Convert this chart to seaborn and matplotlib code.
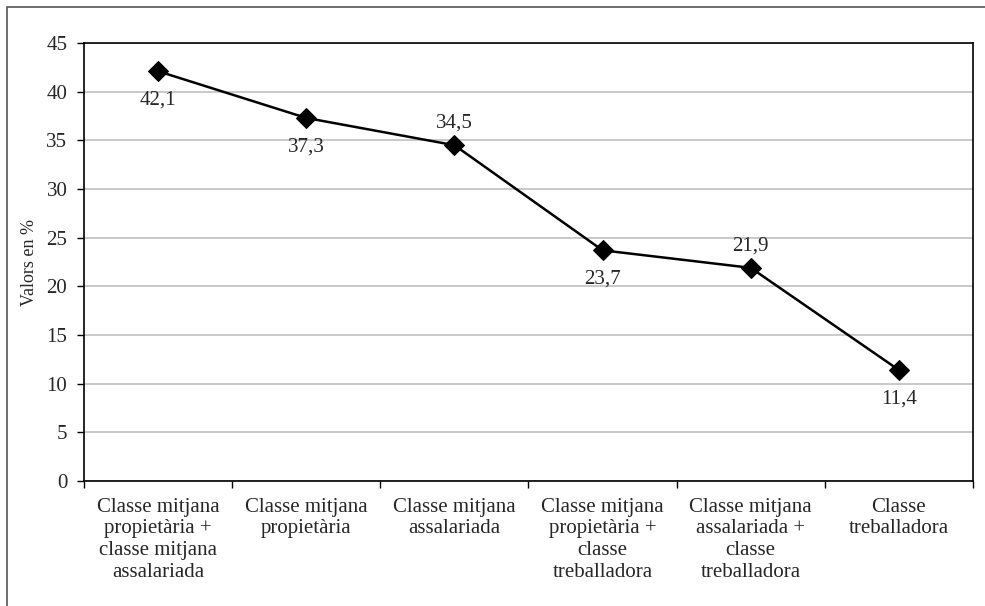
import numpy as np
import pandas as pd
import matplotlib
matplotlib.use('Agg')
import matplotlib.pyplot as plt
import seaborn as sns
from matplotlib.patches import Rectangle

categories = ['Classe mitjana\npropietària +\nclasse mitjana\nassalariada',
              'Classe mitjana\npropietària',
              'Classe mitjana\nassalariada',
              'Classe mitjana\npropietària +\nclasse\ntreballadora',
              'Classe mitjana\nassalariada +\nclasse\ntreballadora',
              'Classe\ntreballadora']
values = [42.1, 37.3, 34.5, 23.7, 21.9, 11.4]
value_labels = ['42,1', '37,3', '34,5', '23,7', '21,9', '11,4']
label_above = [False, False, True, False, True, False]
y_ticks = [0, 5, 10, 15, 20, 25, 30, 35, 40, 45]

sns.set_theme(style='white')
plt.rcParams['font.family'] = ['Liberation Serif', 'DejaVu Serif']

df = pd.DataFrame({'pos': np.arange(len(categories)), 'valor': values})

fig = plt.figure(figsize=(9.85, 6.06), dpi=100)
ax = fig.add_axes([84 / 985, 1 - 481 / 606, (973 - 84) / 985, (481 - 43) / 606])

sns.lineplot(data=df, x='pos', y='valor', ax=ax, color='black', linewidth=1.8,
             marker='D', markersize=10, markeredgecolor='black', markerfacecolor='black')

fs = 15
for i, (v, lab, up) in enumerate(zip(values, value_labels, label_above)):
    if up:
        ax.annotate(lab, (i, v), xytext=(0, 9), textcoords='offset points',
                    ha='center', va='bottom', fontsize=fs)
    else:
        ax.annotate(lab, (i, v), xytext=(0, -14), textcoords='offset points',
                    ha='center', va='top', fontsize=fs)

ax.set_xlim(-0.5, len(categories) - 0.5)
ax.set_ylim(0, 45)
ax.set_yticks(y_ticks)
ax.set_yticklabels([str(t) for t in y_ticks], fontsize=fs)
ax.yaxis.grid(True, color='#c0c0c0', linewidth=1.2)
ax.set_axisbelow(True)

# category boundaries as ticks, labels centred between them
ax.set_xticks(np.arange(-0.5, len(categories), 1.0))
ax.set_xticklabels([])
ax.set_xticks(np.arange(len(categories)), minor=True)
ax.set_xticklabels(categories, minor=True, fontsize=fs, linespacing=1.2)
ax.tick_params(axis='x', which='minor', length=0, pad=12)
ax.tick_params(axis='x', which='major', direction='out', length=5, width=1, color='black', bottom=True)
ax.tick_params(axis='y', direction='out', length=5, width=1, color='black', left=True, pad=7)

for s in ax.spines.values():
    s.set_color('black')
    s.set_linewidth(1.2)

ax.set_xlabel('')
ax.set_ylabel('Valors en %', fontsize=13, labelpad=6)

fig.patches.append(Rectangle((7 / 985, -0.1), 1.2, 1 - 7 / 606 + 0.1, transform=fig.transFigure,
                             fill=False, edgecolor='#555555', linewidth=1.2))

fig.savefig('out.png', dpi=100)
